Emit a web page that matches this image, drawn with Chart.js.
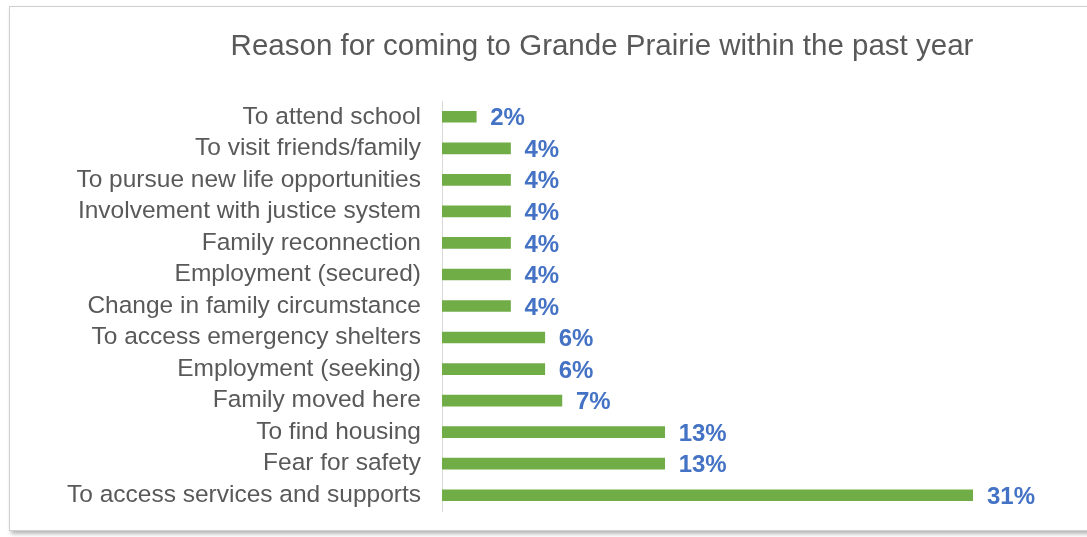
<!DOCTYPE html>
<html>
<head>
<meta charset="utf-8">
<script src="https://cdn.jsdelivr.net/npm/chart.js@4"></script>
<style>
  html, body { margin: 0; padding: 0; background: #fff; }
  body { width: 1087px; height: 537px; overflow: hidden; position: relative; }
  .frame {
    position: absolute; left: 9px; top: 6px; width: 1100px; height: 523px;
    border: 1px solid #cfcfcf;
    box-shadow: 2px 3px 4px rgba(0, 0, 0, 0.28);
    background: #fff;
  }
  #myChart { position: absolute; left: 0; top: 0; }
</style>
</head>
<body>
<div class="frame"></div>
<canvas id="myChart" width="1087" height="537"></canvas>
<script>
// Survey answers, top to bottom
const reasons = [
  "To attend school",
  "To visit friends/family",
  "To pursue new life opportunities",
  "Involvement with justice system",
  "Family reconnection",
  "Employment (secured)",
  "Change in family circumstance",
  "To access emergency shelters",
  "Employment (seeking)",
  "Family moved here",
  "To find housing",
  "Fear for safety",
  "To access services and supports",
];
const percents = [2, 4, 4, 4, 4, 4, 4, 6, 6, 7, 13, 13, 31];

const chartTitle = "Reason for coming to Grande Prairie within the past year";

const textGrey = "#595959";
const barGreen = "#70AD47";
const labelBlue = "#4472C4";

// Title drawn by hand so it can sit off-centre like the original slide
const titlePlugin = {
  id: "slideTitle",
  afterDraw(chart) {
    const ctx = chart.ctx;
    ctx.save();
    ctx.font = "29.5px 'Liberation Sans', Arial, sans-serif";
    ctx.fillStyle = textGrey;
    ctx.textAlign = "center";
    ctx.textBaseline = "alphabetic";
    ctx.fillText(chartTitle, 602, 55);
    ctx.restore();
  },
};

// Percent labels at the end of each bar
const valueLabels = {
  id: "valueLabels",
  afterDatasetsDraw(chart) {
    const ctx = chart.ctx;
    const meta = chart.getDatasetMeta(0);
    ctx.save();
    ctx.font = "bold 24px 'Liberation Sans', Arial, sans-serif";
    ctx.fillStyle = labelBlue;
    ctx.textAlign = "left";
    ctx.textBaseline = "middle";
    meta.data.forEach((bar, i) => {
      ctx.fillText(`${percents[i]}%`, bar.x + 14, bar.y + 2);
    });
    ctx.restore();
  },
};

const config = {
  type: "bar",
  data: {
    labels: reasons,
    datasets: [
      {
        data: percents,
        backgroundColor: barGreen,
        barThickness: 11,
      },
    ],
  },
  options: {
    indexAxis: "y",
    responsive: false,
    animation: false,
    layout: { padding: { left: 20, right: 114, top: 101, bottom: 26 } },
    plugins: {
      legend: { display: false },
      title: { display: false },
      tooltip: { enabled: false },
    },
    scales: {
      x: {
        display: false,
        min: 0,
        max: 31,
      },
      y: {
        afterFit(scale) {
          // fixed label column, and no extra room for label overhang
          scale.width = 422;
          scale.paddingTop = 0;
          scale.paddingBottom = 0;
        },
        grid: { display: false, drawTicks: false },
        border: { display: true, color: "#D9D9D9", width: 1 },
        ticks: {
          color: textGrey,
          padding: 21,
          autoSkip: false,
          font: { family: "'Liberation Sans', Arial, sans-serif", size: 24.5 },
        },
      },
    },
  },
  plugins: [titlePlugin, valueLabels],
};

const ctx = document.getElementById("myChart").getContext("2d");
const myChart = new Chart(ctx, config);
</script>
</body>
</html>
